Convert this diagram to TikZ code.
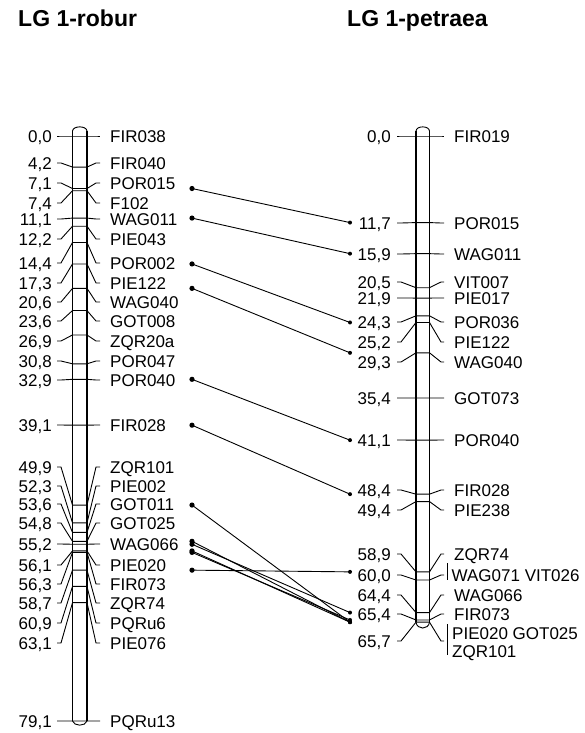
\documentclass[tikz,border=0pt]{standalone}
\usepackage{fontspec}
\setmainfont{Liberation Sans}
\tikzset{
  lab/.style={inner sep=0pt, font=\fontsize{17}{18}\selectfont, text height=12.2pt, text depth=0pt},
  numlab/.style={lab, anchor=east},
  namelab/.style={lab, anchor=west},
  titlelab/.style={inner sep=0pt, anchor=base west, font=\fontsize{23}{26}\selectfont\bfseries},
  chrbar/.style={line width=1.2pt},
  leader/.style={line width=0.9pt},
  conn/.style={line width=0.9pt},
  ldot/.style={fill=black},
}
% left marker: #1 cM, #2 label y, #3 number, #4 name, #5 id
\newcommand\lmark[5]{%
  \pgfmathsetmacro\ty{136+#1*7.396}%
  \node[numlab] (Ln#5) at (52,#2) {#3};
  \node[namelab] (Lm#5) at (110,#2) {#4};
  \coordinate (Ld#5) at (192,\ty);
  \draw[leader] ([xshift=5pt]Ln#5.east) -- ++(4,0) -- (72.5,\ty) -- (87,\ty) -- (96,#2) -- ([xshift=-10pt]Lm#5.west);
}
% right marker with number and leader only
\newcommand\rmarkn[4]{%
  \pgfmathsetmacro\ty{136+#1*7.4}%
  \node[numlab] (Rn#4) at (391,#2) {#3};
  \coordinate (Re#4) at (350,\ty);
  \coordinate (Rx#4) at (444,#2);
  \draw[leader] ([xshift=6pt]Rn#4.east) -- ++(4,0) -- (416,\ty) -- (429.5,\ty) -- (441,#2) -- (Rx#4);
}
\newcommand\rmark[5]{%
  \rmarkn{#1}{#2}{#3}{#5}
  \node[namelab] (Rm#5) at (454,#2) {#4};
}
\begin{document}
\begin{tikzpicture}[x=1pt,y=-1pt]
\useasboundingbox (0,0) rectangle (585,733);
\fill[white] (0,0) rectangle (585,733);

% titles
\node[titlelab] (t1) at (18,27) {LG 1-robur};
\node[titlelab] (t2) at (347,27) {LG 1-petraea};

% left chromosome bar
\draw[chrbar] (72.5,131) -- (72.5,721);
\draw[chrbar] (87,131) -- (87,721);
\draw[leader] (72.5,131) .. controls (73,125.5) and (86.5,125.5) .. (87,131);
\draw[leader] (72.5,721) .. controls (74,726.5) and (85.5,726.5) .. (87,721);

% right chromosome bar
\draw[chrbar] (416,131) -- (416,622.2);
\draw[chrbar] (429.5,131) -- (429.5,622.2);
\draw[leader] (416,131) .. controls (416.5,125.5) and (429,125.5) .. (429.5,131);
\draw[leader] (416,622.2) .. controls (417,630) and (428.5,630) .. (429.5,622.2);

% left markers
\lmark{0.0}{136}{0,0}{FIR038}{a}
\lmark{4.2}{163}{4,2}{FIR040}{b}
\lmark{7.1}{183}{7,1}{POR015}{c}
\lmark{7.4}{203}{7,4}{F102}{d}
\lmark{11.1}{219}{11,1}{WAG011}{e}
\lmark{12.2}{239}{12,2}{PIE043}{f}
\lmark{14.4}{263}{14,4}{POR002}{g}
\lmark{17.3}{283}{17,3}{PIE122}{h}
\lmark{20.6}{302}{20,6}{WAG040}{i}
\lmark{23.6}{321}{23,6}{GOT008}{j}
\lmark{26.9}{341}{26,9}{ZQR20a}{k}
\lmark{30.8}{361}{30,8}{POR047}{l}
\lmark{32.9}{380}{32,9}{POR040}{m}
\lmark{39.1}{425}{39,1}{FIR028}{n}
\lmark{49.9}{467}{49,9}{ZQR101}{o}
\lmark{52.3}{486}{52,3}{PIE002}{p}
\lmark{53.6}{504}{53,6}{GOT011}{q}
\lmark{54.8}{523}{54,8}{GOT025}{r}
\lmark{55.2}{544}{55,2}{WAG066}{s}
\lmark{56.1}{565}{56,1}{PIE020}{t}
\lmark{56.3}{584}{56,3}{FIR073}{u}
\lmark{58.7}{603}{58,7}{ZQR74}{v}
\lmark{60.9}{623}{60,9}{PQRu6}{w}
\lmark{63.1}{643}{63,1}{PIE076}{x}
\lmark{79.1}{721}{79,1}{PQRu13}{y}

% right markers
\rmark{0.0}{136}{0,0}{FIR019}{a}
\rmark{11.7}{223}{11,7}{POR015}{b}
\rmark{15.9}{254}{15,9}{WAG011}{c}
\rmark{20.5}{282}{20,5}{VIT007}{d}
\rmark{21.9}{298}{21,9}{PIE017}{e}
\rmark{24.3}{322}{24,3}{POR036}{f}
\rmark{25.2}{342}{25,2}{PIE122}{g}
\rmark{29.3}{362}{29,3}{WAG040}{h}
\rmark{35.4}{398}{35,4}{GOT073}{i}
\rmark{41.1}{440}{41,1}{POR040}{j}
\rmark{48.4}{490}{48,4}{FIR028}{k}
\rmark{49.4}{510}{49,4}{PIE238}{l}
\rmark{58.9}{554}{58,9}{ZQR74}{m}
\rmarkn{60.0}{575}{60,0}{n}
\rmark{64.4}{595}{64,4}{WAG066}{o}
\rmark{65.4}{614}{65,4}{FIR073}{p}
\rmarkn{65.7}{641}{65,7}{q}

% grouped names on the right
\coordinate (gn1) at (447.5,563);
\coordinate (gn2) at (447.5,580);
\draw[leader] (gn1) -- (gn2);
\node[namelab] (Rmn) at (451.5,575) {WAG071 VIT026};
\coordinate (gq1) at (447.5,624);
\coordinate (gq2) at (447.5,655);
\draw[leader] (gq1) -- (gq2);
\node[namelab] (Rmq1) at (452,633) {PIE020 GOT025};
\node[namelab] (Rmq2) at (452,651) {ZQR101};

% connectors between maps
\foreach \l/\r in {c/b, e/c, h/g, i/h, m/j, n/k, o/q, r/q, s/o, t/q, u/p, v/m}{
  \draw[conn] (Ld\l) -- (Re\r);
  \fill[ldot] (Ld\l) circle (2.6);
  \fill[ldot] (Re\r) circle (2);
}
\end{tikzpicture}
\end{document}
